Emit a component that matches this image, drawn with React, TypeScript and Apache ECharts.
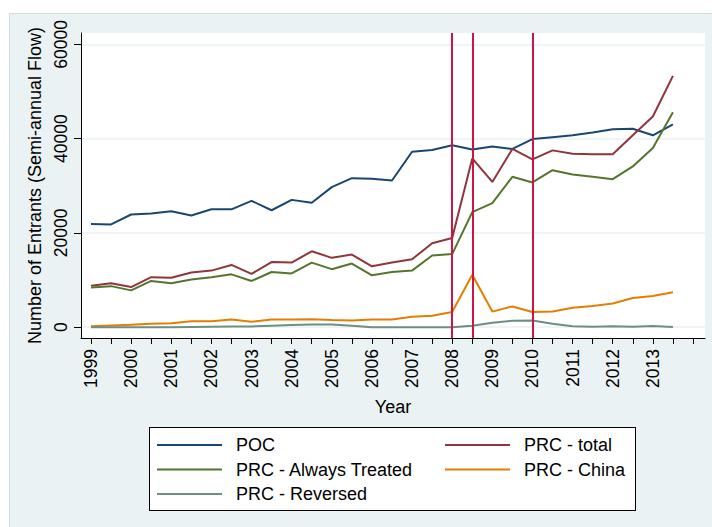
import React, { useEffect, useRef } from "react";
import * as echarts from "echarts";

// Semi-annual periods
const periods = [
  1999, 1999.5, 2000, 2000.5, 2001, 2001.5, 2002, 2002.5, 2003, 2003.5,
  2004, 2004.5, 2005, 2005.5, 2006, 2006.5, 2007, 2007.5, 2008, 2008.5,
  2009, 2009.5, 2010, 2010.5, 2011, 2011.5, 2012, 2012.5, 2013, 2013.5,
];

const poc = [
  21900, 21800, 23900, 24100, 24600, 23700, 25000, 25000, 26800, 24800,
  27000, 26400, 29700, 31600, 31500, 31100, 37200, 37600, 38600, 37700,
  38300, 37800, 39900, 40300, 40700, 41300, 42000, 42100, 40700, 43000,
];
const prcTotal = [
  8800, 9300, 8500, 10600, 10500, 11600, 12000, 13200, 11300, 13800,
  13700, 16100, 14700, 15400, 12900, 13700, 14400, 17800, 18900, 35800,
  30800, 37800, 35600, 37500, 36800, 36700, 36700, 40700, 44700, 53300,
];
const prcAlways = [
  8400, 8700, 7800, 9800, 9300, 10100, 10600, 11200, 9800, 11700,
  11400, 13700, 12300, 13500, 11000, 11700, 12000, 15200, 15500, 24400,
  26300, 31900, 30700, 33300, 32400, 31900, 31400, 34100, 38000, 45600,
];
const prcChina = [
  200, 350, 500, 700, 850, 1250, 1250, 1600, 1150, 1600,
  1600, 1700, 1500, 1400, 1600, 1600, 2200, 2400, 3200, 11100,
  3300, 4400, 3200, 3300, 4100, 4500, 5000, 6200, 6600, 7400,
];
const prcReversed = [
  0, 0, 0, 0, 0, 50, 100, 150, 150, 300,
  450, 550, 550, 300, 0, 0, 0, 0, 0, 300,
  950, 1350, 1400, 700, 200, 100, 200, 100, 250, 50,
];

const eventLines = [2008, 2008.5, 2010];
const yTicks = [0, 20000, 40000, 60000];
const xLabelYears = [
  1999, 2000, 2001, 2002, 2003, 2004, 2005, 2006, 2007, 2008, 2009, 2010,
  2011, 2012, 2013,
];
const xTickValues = [
  1999, 1999.5, 2000, 2000.5, 2001, 2001.5, 2002, 2002.5, 2003, 2003.5,
  2004, 2004.5, 2005, 2005.5, 2006, 2006.5, 2007, 2007.5, 2008, 2008.5,
  2009, 2009.5, 2010, 2010.5, 2011, 2011.5, 2012, 2012.5, 2013, 2013.5, 2014,
];

const seriesDefs = [
  { name: "POC", values: poc, color: "#1a476f" },
  { name: "PRC - total", values: prcTotal, color: "#90353b" },
  { name: "PRC - Always Treated", values: prcAlways, color: "#55752f" },
  { name: "PRC - China", values: prcChina, color: "#e37e00" },
  { name: "PRC - Reversed", values: prcReversed, color: "#6e8e84" },
];

const FONT = "'Liberation Sans', Arial, sans-serif";

export default function App() {
  const ref = useRef<HTMLDivElement>(null);

  useEffect(() => {
    if (!ref.current) return;
    const chart = echarts.init(ref.current, null, { renderer: "svg" });

    const legendCommon = {
      orient: "vertical",
      icon: "rect",
      itemWidth: 65,
      itemHeight: 2,
      itemGap: 4.5,
      padding: 0,
      selectedMode: false,
      textStyle: {
        fontSize: 18,
        lineHeight: 20,
        color: "#000",
        fontFamily: FONT,
        padding: [0, 0, 0, 9],
      },
    };

    chart.setOption({
      animation: false,
      backgroundColor: "transparent",
      textStyle: { fontFamily: FONT },
      grid: {
        left: 81,
        top: 33,
        width: 624,
        height: 305,
        show: true,
        backgroundColor: "#ffffff",
        borderWidth: 0,
        containLabel: false,
        outerBoundsMode: "none",
      },
      legend: [
        {
          ...legendCommon,
          left: 157,
          top: 435,
          data: ["POC", "PRC - Always Treated", "PRC - Reversed"],
        },
        {
          ...legendCommon,
          left: 445,
          top: 435,
          data: ["PRC - total", "PRC - China"],
        },
      ],
      xAxis: {
        type: "value",
        min: 1998.751,
        max: 2014.299,
        name: "Year",
        nameLocation: "middle",
        nameGap: 60,
        nameTextStyle: { fontSize: 18, color: "#000", fontFamily: FONT },
        axisLine: { show: true, onZero: false, lineStyle: { color: "#000", width: 1 } },
        axisTick: {
          show: true,
          length: 6,
          customValues: xTickValues,
          lineStyle: { color: "#000", width: 1 },
        },
        axisLabel: {
          show: true,
          rotate: 90,
          margin: 11,
          fontSize: 17.5,
          color: "#000",
          fontFamily: FONT,
          customValues: xLabelYears,
          formatter: (v: number) => String(v),
        },
        splitLine: { show: false },
      },
      yAxis: {
        type: "value",
        min: -2300,
        max: 62400,
        name: "Number of Entrants (Semi-annual Flow)",
        nameLocation: "middle",
        nameGap: 29,
        nameTextStyle: { fontSize: 18, color: "#000", fontFamily: FONT },
        axisLine: { show: true, onZero: false, lineStyle: { color: "#000", width: 1 } },
        axisTick: {
          show: true,
          length: 7,
          customValues: yTicks,
          lineStyle: { color: "#000", width: 1 },
        },
        axisLabel: {
          show: true,
          rotate: 90,
          margin: 11,
          fontSize: 17.5,
          color: "#000",
          fontFamily: FONT,
          customValues: yTicks,
          formatter: (v: number) => String(v),
        },
        splitLine: { show: true, lineStyle: { color: "#EAF2F3", width: 1.5 } },
      },
      series: [
        ...seriesDefs.map((s) => ({
          name: s.name,
          type: "line",
          data: periods.map((p, i) => [p, s.values[i]]),
          color: s.color,
          showSymbol: false,
          symbol: "none",
          lineStyle: { color: s.color, width: 2 },
          itemStyle: { color: s.color },
          z: 3,
        })),
        {
          name: "events",
          type: "line",
          data: [],
          z: 10,
          markLine: {
            silent: true,
            symbol: "none",
            label: { show: false },
            lineStyle: { color: "#cc1446", width: 2, type: "solid" },
            data: eventLines.map((x) => ({ xAxis: x })),
          },
        },
      ],
    });

    return () => chart.dispose();
  }, []);

  return (
    <div
      style={{
        position: "fixed",
        left: 0,
        top: 0,
        width: 712,
        height: 527,
        background: "#ffffff",
        overflow: "hidden",
      }}
    >
      <div
        style={{
          position: "absolute",
          left: 9,
          top: 13,
          width: 712,
          height: 527,
          background: "#EAF2F3",
          borderTop: "1px solid #D6DCDE",
          borderLeft: "1px solid #D6DCDE",
        }}
      />
      <div
        style={{
          position: "absolute",
          left: 149,
          top: 427,
          width: 485,
          height: 82,
          background: "#ffffff",
          border: "1px solid #000",
        }}
      />
      <div
        ref={ref}
        style={{ position: "absolute", left: 0, top: 0, width: 712, height: 527 }}
      />
    </div>
  );
}
